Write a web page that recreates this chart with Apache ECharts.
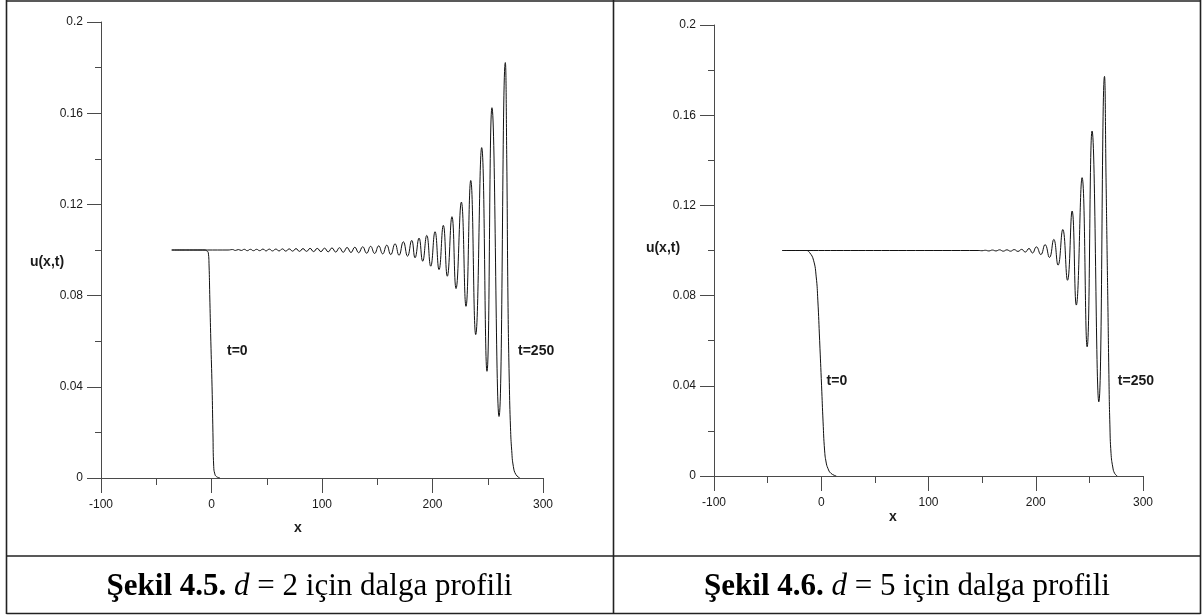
<!DOCTYPE html>
<html>
<head>
<meta charset="utf-8">
<script src="https://cdn.jsdelivr.net/npm/echarts/dist/echarts.min.js"></script>
<style>
  html, body { margin: 0; padding: 0; background: #ffffff; }
  #chart { width: 1202px; height: 616px; }
</style>
</head>
<body>
<div id="chart"></div>
<script>
// Wave profiles u(x,t): initial step (t=0) and the undular bore after t=250,
// for dispersion parameter d = 2 (left) and d = 5 (right).

const xTicks = [-100, 0, 100, 200, 300];
const yTicks = [0, 0.04, 0.08, 0.12, 0.16, 0.2];

// d = 2
const d2_t0 = [
  [-36, 0.1], [-6.8, 0.1], [-4.5, 0.0997], [-2.9, 0.0988], [-2.2, 0.093],
  [-1.6, 0.0805], [-0.6, 0.06], [0.5, 0.04], [1.3, 0.02], [2.0, 0.0051],
  [3.0, 0.0018], [4.5, 0.0006], [7.7, 0]
];
const d2_t250 = [
  [-36, 0.1], [15, 0.1],
  [19.0, 0.1002], [21.6, 0.0998], [24.3, 0.1002], [27.0, 0.0998], [29.7, 0.1003],
  [32.4, 0.0997], [35.2, 0.1003], [38.0, 0.0997], [40.8, 0.1003], [43.6, 0.0997],
  [46.5, 0.1004], [49.4, 0.0996], [52.3, 0.1004], [55.2, 0.0996], [58.2, 0.1004],
  [61.2, 0.0996], [64.2, 0.1005], [67.2, 0.0995], [70.3, 0.1005], [73.4, 0.0995],
  [76.5, 0.1006], [79.6, 0.0994], [82.8, 0.1006], [86.0, 0.0994], [89.2, 0.1007],
  [92.4, 0.0993], [95.7, 0.1007], [99.0, 0.0993], [102.3, 0.1008], [105.6, 0.0992],
  [109.0, 0.1009], [112.4, 0.0991], [115.8, 0.1010], [119.2, 0.0990], [122.7, 0.1011],
  [126.2, 0.0989], [129.7, 0.1012], [133.2, 0.0988], [136.8, 0.1014], [140.4, 0.0986],
  [144.0, 0.1016], [147.6, 0.0985], [151.3, 0.1018], [154.9, 0.0983], [158.6, 0.1021],
  [162.2, 0.0980], [166.1, 0.1027], [169.7, 0.0977], [173.6, 0.1036], [177.4, 0.0973],
  [181.2, 0.1042], [184.2, 0.0966], [187.8, 0.1052], [191.1, 0.0951], [194.8, 0.1064],
  [198.4, 0.0929], [202.3, 0.1080], [205.9, 0.0914], [209.8, 0.1108], [213.4, 0.0885],
  [217.6, 0.1146], [221.3, 0.0831], [226.1, 0.1210], [230.3, 0.0753], [234.6, 0.1305],
  [239.1, 0.0629], [244.5, 0.1449], [249.3, 0.0468], [253.8, 0.1624], [260.2, 0.0270],
  [265.9, 0.1822], [267.2, 0.140], [268.3, 0.078], [269.5, 0.042], [270.6, 0.022],
  [271.7, 0.012], [273.2, 0.005], [275.5, 0.0015], [279, 0]
];

// d = 5
const d5_t0 = [
  [-36.4, 0.1], [-14, 0.1], [-10.9, 0.0991], [-7.2, 0.0957], [-4.7, 0.0883],
  [-3.2, 0.078], [-1.5, 0.06], [0.3, 0.04], [1.7, 0.024], [3.1, 0.0115],
  [4.5, 0.0062], [6.2, 0.0034], [9.0, 0.0012], [14, 0]
];
const d5_t250 = [
  [-36.4, 0.1], [147, 0.1],
  [149.8, 0.0999], [153.0, 0.1001], [156.3, 0.0998], [159.6, 0.1002], [162.9, 0.0998],
  [166.3, 0.1003], [169.7, 0.0997], [173.1, 0.1003], [176.5, 0.0997], [179.9, 0.1004],
  [183.4, 0.0996], [186.9, 0.1005], [190.2, 0.0993], [193.7, 0.1009], [196.9, 0.0989],
  [200.6, 0.1016], [204.7, 0.0982], [208.7, 0.1026], [212.8, 0.0969], [216.8, 0.1049],
  [220.8, 0.0935], [225.2, 0.1093], [229.6, 0.0868], [233.9, 0.1175], [237.8, 0.0758],
  [243.2, 0.1323], [247.9, 0.0573], [252.5, 0.1530], [258.8, 0.0329], [264.1, 0.1772],
  [265.6, 0.130], [266.5, 0.100], [267.2, 0.078], [268.2, 0.045], [269.1, 0.023],
  [270.2, 0.010], [271.8, 0.004], [273.5, 0.0012], [276, 0]
];

const captions = [
  { fig: 'Şekil 4.5.', d: '2' },
  { fig: 'Şekil 4.6.', d: '5' }
];

const AXIS_COLOR = '#4a4a4a';
const TEXT_COLOR = '#1a1a1a';
const SANS = '"Liberation Sans", Arial, sans-serif';
const SERIF = '"Liberation Serif", "DejaVu Serif", serif';

function xAxisFor(gridIndex) {
  return {
    gridIndex: gridIndex,
    type: 'value',
    min: xTicks[0],
    max: xTicks[xTicks.length - 1],
    interval: xTicks[1] - xTicks[0],
    axisLine: { show: true, onZero: false, lineStyle: { color: AXIS_COLOR, width: 1 } },
    axisTick: { show: true, length: 15, lineStyle: { color: AXIS_COLOR, width: 1 } },
    minorTick: { show: true, splitNumber: 2, length: 7, lineStyle: { color: AXIS_COLOR, width: 1 } },
    axisLabel: { show: true, margin: 21, fontSize: 12, color: TEXT_COLOR, fontFamily: SANS },
    splitLine: { show: false },
    minorSplitLine: { show: false }
  };
}

function yAxisFor(gridIndex) {
  return {
    gridIndex: gridIndex,
    type: 'value',
    min: yTicks[0],
    max: yTicks[yTicks.length - 1],
    interval: yTicks[1] - yTicks[0],
    axisLine: { show: true, onZero: false, lineStyle: { color: AXIS_COLOR, width: 1 } },
    axisTick: { show: true, length: 14, lineStyle: { color: AXIS_COLOR, width: 1 } },
    minorTick: { show: true, splitNumber: 2, length: 6, lineStyle: { color: AXIS_COLOR, width: 1 } },
    axisLabel: {
      show: true, margin: 18, fontSize: 12, color: TEXT_COLOR, fontFamily: SANS,
      formatter: function (v) { return String(Math.round(v * 100) / 100); }
    },
    splitLine: { show: false },
    minorSplitLine: { show: false }
  };
}

function curve(data, gridIndex) {
  return {
    type: 'line',
    xAxisIndex: gridIndex,
    yAxisIndex: gridIndex,
    data: data,
    showSymbol: false,
    symbol: 'none',
    smooth: 0.5,
    lineStyle: { color: '#111111', width: 1 },
    silent: true,
    animation: false
  };
}

const chart = echarts.init(document.getElementById('chart'), null, { renderer: 'canvas' });

chart.setOption({
  backgroundColor: '#ffffff',
  animation: false,
  grid: [
    { left: 101, top: 22, width: 442, height: 456, containLabel: false, outerBoundsMode: 'none' },
    { left: 714, top: 25, width: 429, height: 451, containLabel: false, outerBoundsMode: 'none' }
  ],
  xAxis: [xAxisFor(0), xAxisFor(1)],
  yAxis: [yAxisFor(0), yAxisFor(1)],
  series: [
    curve(d2_t0, 0),
    curve(d2_t250, 0),
    curve(d5_t0, 1),
    curve(d5_t250, 1)
  ]
});

// Curve annotations, anchored in data coordinates of each panel
function px(gridIndex, x, y) {
  return chart.convertToPixel({ gridIndex: gridIndex }, [x, y]);
}
function note(gridIndex, x, y, text) {
  const p = px(gridIndex, x, y);
  return {
    type: 'text', silent: true,
    style: {
      text: text, x: p[0], y: p[1], align: 'left', verticalAlign: 'middle',
      font: 'bold 14px ' + SANS, fill: TEXT_COLOR
    }
  };
}
function plainText(x, y, text, font, align) {
  return {
    type: 'text', silent: true,
    style: { text: text, x: x, y: y, align: align || 'center', verticalAlign: 'middle', font: font, fill: TEXT_COLOR }
  };
}
function captionText(cx, cy, c) {
  return {
    type: 'text', silent: true,
    style: {
      text: '{b|' + c.fig + ' }{i|d}{r| = ' + c.d + ' için dalga profili}',
      x: cx, y: cy, align: 'center', verticalAlign: 'middle',
      fill: '#000000',
      rich: {
        b: { font: 'bold 31px ' + SERIF, fill: '#000000' },
        i: { font: 'italic 31px ' + SERIF, fill: '#000000' },
        r: { font: '31px ' + SERIF, fill: '#000000' }
      }
    }
  };
}
function rule(x1, y1, x2, y2) {
  return {
    type: 'line', silent: true,
    shape: { x1: x1, y1: y1, x2: x2, y2: y2 },
    style: { stroke: '#222222', lineWidth: 1.6 }
  };
}

chart.setOption({
  graphic: [
    // table frame
    rule(6.5, 1, 1200.5, 1),
    rule(6.5, 556, 1200.5, 556),
    rule(6.5, 613.5, 1200.5, 613.5),
    rule(6.5, 0, 6.5, 614),
    rule(613.5, 0, 613.5, 614),
    rule(1200.5, 0, 1200.5, 614),
    // axis titles
    plainText(47, 262, 'u(x,t)', 'bold 14px ' + SANS),
    plainText(298, 528, 'x', 'bold 14px ' + SANS),
    plainText(663, 248, 'u(x,t)', 'bold 14px ' + SANS),
    plainText(893, 517, 'x', 'bold 14px ' + SANS),
    // curve labels
    note(0, 14, 0.0556, 't=0'),
    note(0, 277.4, 0.0556, 't=250'),
    note(1, 5, 0.0422, 't=0'),
    note(1, 276.5, 0.042, 't=250'),
    // captions
    captionText(309.5, 587, captions[0]),
    captionText(907, 587, captions[1])
  ]
});
</script>
</body>
</html>
